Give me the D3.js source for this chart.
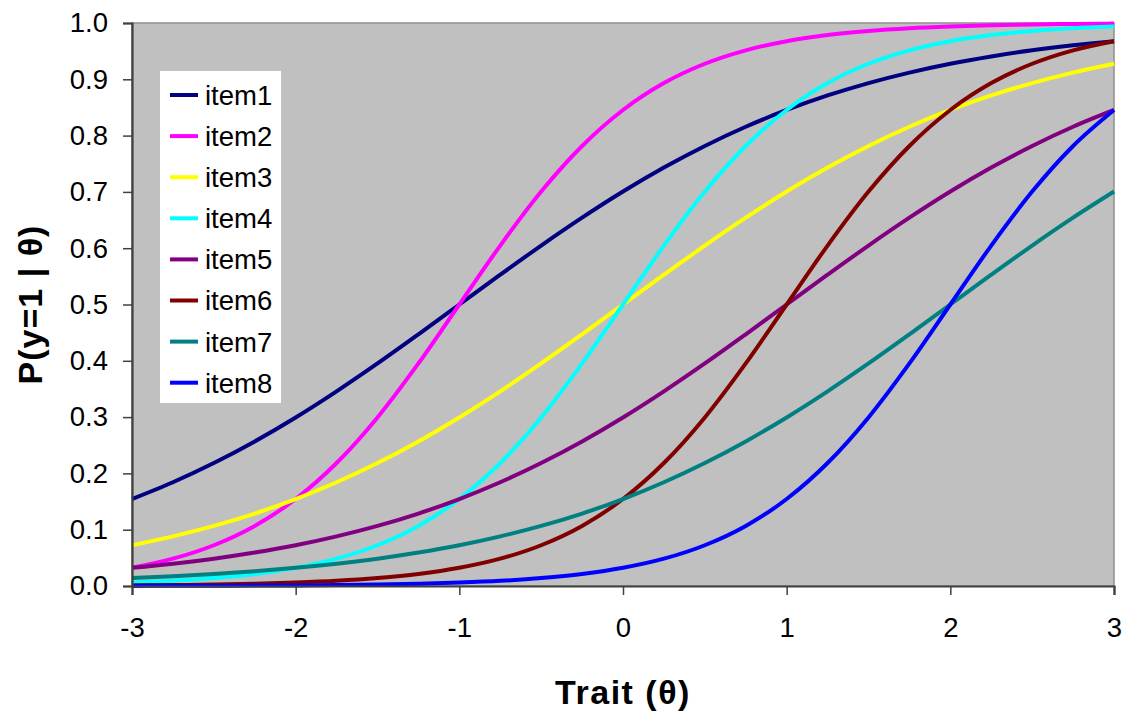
<!DOCTYPE html>
<html>
<head>
<meta charset="utf-8">
<script src="https://cdn.jsdelivr.net/npm/d3@7"></script>
<style>
  html, body { margin: 0; padding: 0; background: #ffffff; }
  svg { display: block; font-family: "Liberation Sans", Arial, sans-serif; }
</style>
</head>
<body>
<svg id="chart" width="1123" height="712"></svg>
<script>
// ---- data ----
const theta = [-3, -2.75, -2.5, -2.25, -2, -1.75, -1.5, -1.25, -1, -0.75, -0.5, -0.25, 0,
               0.25, 0.5, 0.75, 1, 1.25, 1.5, 1.75, 2, 2.25, 2.5, 2.75, 3];
const itemNames = ["item1", "item2", "item3", "item4", "item5", "item6", "item7", "item8"];
const item1 = [0.1545, 0.1843, 0.2184, 0.2568, 0.2994, 0.3458, 0.3953, 0.4471, 0.5, 0.5529, 0.6047, 0.6542, 0.7006,
               0.7432, 0.7816, 0.8157, 0.8455, 0.8713, 0.8933, 0.9119, 0.9276, 0.9406, 0.9515, 0.9604, 0.9677];
const item2 = [0.0323, 0.0485, 0.0724, 0.1067, 0.1545, 0.2184, 0.2994, 0.3953, 0.5, 0.6047, 0.7006, 0.7816, 0.8455,
               0.8933, 0.9276, 0.9515, 0.9677, 0.9787, 0.9859, 0.9908, 0.9939, 0.9960, 0.9974, 0.9983, 0.9989];
const item3 = [0.0724, 0.0881, 0.1067, 0.1287, 0.1545, 0.1843, 0.2184, 0.2568, 0.2994, 0.3458, 0.3953, 0.4471, 0.5,
               0.5529, 0.6047, 0.6542, 0.7006, 0.7432, 0.7816, 0.8157, 0.8455, 0.8713, 0.8933, 0.9119, 0.9276];
const item4 = [0.0061, 0.0092, 0.0141, 0.0213, 0.0323, 0.0485, 0.0724, 0.1067, 0.1545, 0.2184, 0.2994, 0.3953, 0.5,
               0.6047, 0.7006, 0.7816, 0.8455, 0.8933, 0.9276, 0.9515, 0.9677, 0.9787, 0.9859, 0.9908, 0.9939];
const item5 = [0.0323, 0.0396, 0.0485, 0.0594, 0.0724, 0.0881, 0.1067, 0.1287, 0.1545, 0.1843, 0.2184, 0.2568, 0.2994,
               0.3458, 0.3953, 0.4471, 0.5, 0.5529, 0.6047, 0.6542, 0.7006, 0.7432, 0.7816, 0.8157, 0.8455];
const item6 = [0.0011, 0.0017, 0.0026, 0.0040, 0.0061, 0.0092, 0.0141, 0.0213, 0.0323, 0.0485, 0.0724, 0.1067, 0.1545,
               0.2184, 0.2994, 0.3953, 0.5, 0.6047, 0.7006, 0.7816, 0.8455, 0.8933, 0.9276, 0.9515, 0.9677];
const item7 = [0.0141, 0.0173, 0.0213, 0.0263, 0.0323, 0.0396, 0.0485, 0.0594, 0.0724, 0.0881, 0.1067, 0.1287, 0.1545,
               0.1843, 0.2184, 0.2568, 0.2994, 0.3458, 0.3953, 0.4471, 0.5, 0.5529, 0.6047, 0.6542, 0.7006];
const item8 = [0.0002, 0.0003, 0.0005, 0.0007, 0.0011, 0.0017, 0.0026, 0.0040, 0.0061, 0.0092, 0.0141, 0.0213, 0.0323,
               0.0485, 0.0724, 0.1067, 0.1545, 0.2184, 0.2994, 0.3953, 0.5, 0.6047, 0.7006, 0.7816, 0.8455];
const seriesValues = [item1, item2, item3, item4, item5, item6, item7, item8];
const xTicks = [-3, -2, -1, 0, 1, 2, 3];
const yTicks = [0, 0.1, 0.2, 0.3, 0.4, 0.5, 0.6, 0.7, 0.8, 0.9, 1.0];
const xTitle = "Trait (θ)";
const yTitle = "P(y=1 | θ)";

// ---- styles ----
const colors = ["#000080", "#FF00FF", "#FFFF00", "#00FFFF", "#800080", "#800000", "#008080", "#0000FF"];
const plot = { left: 132, top: 23, right: 1114, bottom: 586 };

const svg = d3.select("#chart");
const x = d3.scaleLinear().domain([-3, 3]).range([plot.left, plot.right]);
const y = d3.scaleLinear().domain([0, 1]).range([plot.bottom, plot.top]);

// plot background
svg.append("rect")
  .attr("x", plot.left).attr("y", plot.top)
  .attr("width", plot.right - plot.left).attr("height", plot.bottom - plot.top)
  .attr("fill", "#C0C0C0")
  .attr("stroke", "#909090").attr("stroke-width", 1.5);

// series lines
const line = d3.line().x((d, i) => x(theta[i])).y(d => y(d)).curve(d3.curveMonotoneX);
seriesValues.forEach((vals, k) => {
  svg.append("path")
    .datum(vals)
    .attr("d", line)
    .attr("fill", "none")
    .attr("stroke", colors[k])
    .attr("stroke-width", 4)
    .attr("stroke-linejoin", "round");
});

// axes
const yAxis = d3.axisLeft(y).tickValues(yTicks).tickFormat(d3.format(".1f")).tickSize(9).tickPadding(15);
const xAxis = d3.axisBottom(x).tickValues(xTicks).tickFormat(d3.format("d")).tickSize(9).tickPadding(22);

const gy = svg.append("g").attr("transform", `translate(${plot.left},0)`).call(yAxis);
const gx = svg.append("g").attr("transform", `translate(0,${plot.bottom})`).call(xAxis);
[gx, gy].forEach(g => {
  g.select(".domain").attr("stroke", "#404040").attr("stroke-width", 2.2);
  g.selectAll(".tick line").attr("stroke", "#404040").attr("stroke-width", 1.5);
  g.selectAll(".tick text")
    .attr("font-family", "'Liberation Sans', Arial, sans-serif")
    .attr("font-size", 27.5).attr("fill", "#000");
});
gx.selectAll(".tick text").text(d => (d < 0 ? "-" + Math.abs(d) : String(d)));

// axis titles
svg.append("text")
  .attr("x", (plot.left + plot.right) / 2).attr("y", 704)
  .attr("text-anchor", "middle")
  .attr("font-size", 34).attr("font-weight", "bold")
  .attr("letter-spacing", 1.5)
  .text(xTitle);
svg.append("text")
  .attr("transform", `translate(42,${(plot.top + plot.bottom) / 2}) rotate(-90)`)
  .attr("text-anchor", "middle")
  .attr("font-size", 34).attr("font-weight", "bold")
  .attr("letter-spacing", 1)
  .text(yTitle);

// legend
const legend = svg.append("g");
legend.append("rect")
  .attr("x", 160).attr("y", 71).attr("width", 121).attr("height", 332)
  .attr("fill", "#ffffff");
itemNames.forEach((name, k) => {
  const cy = 95 + k * 41.1;
  legend.append("line")
    .attr("x1", 170).attr("x2", 198).attr("y1", cy).attr("y2", cy)
    .attr("stroke", colors[k]).attr("stroke-width", 4);
  legend.append("text")
    .attr("x", 205).attr("y", cy).attr("dy", "0.36em")
    .attr("font-size", 27.5).attr("fill", "#000")
    .text(name);
});
</script>
</body>
</html>
